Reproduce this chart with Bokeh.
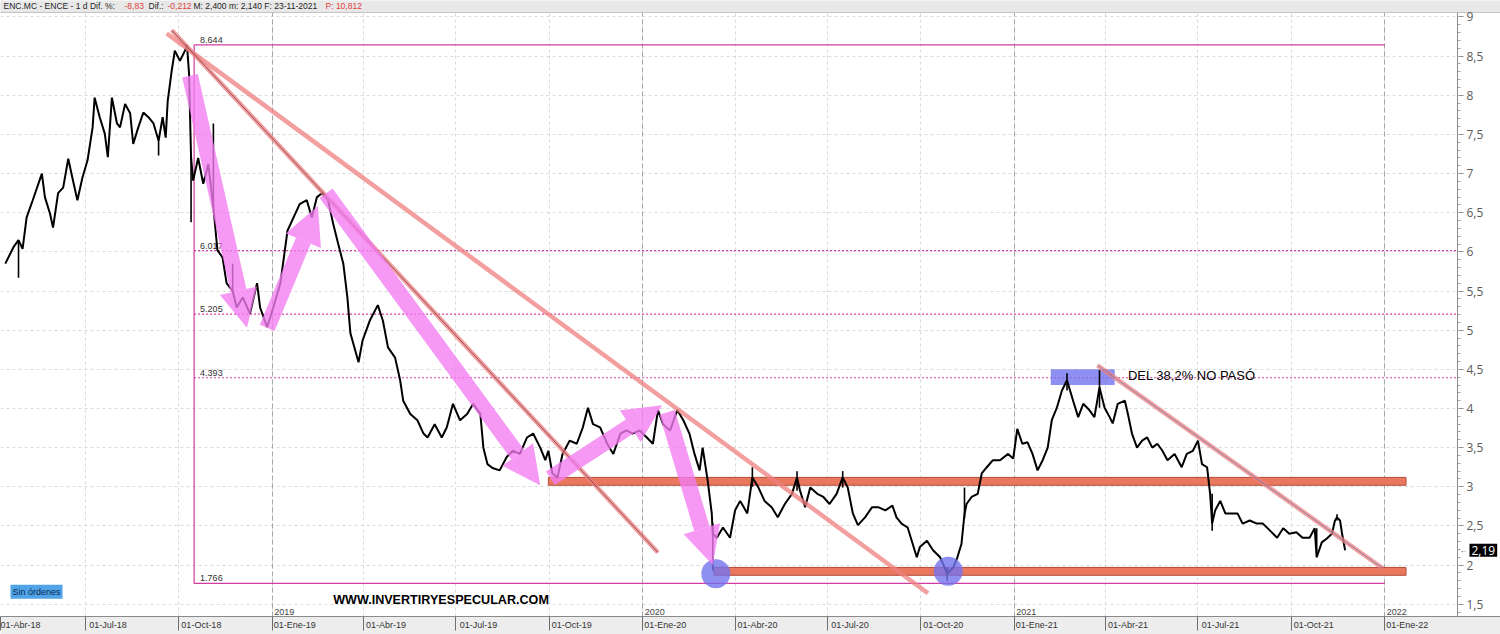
import pandas as pd
from bokeh.plotting import figure
from bokeh.models import (Range1d, LinearAxis, FixedTicker, Grid, CustomJSTickFormatter,
                          ColumnDataSource, Arrow, NormalHead, Label)
from bokeh.embed import file_html
from bokeh.resources import INLINE
from bokeh.core.properties import value

# ---------------- data ----------------
dates = ["2018-04-13","2018-04-21","2018-04-26","2018-04-30","2018-05-04","2018-05-10","2018-05-19","2018-05-22",
         "2018-05-27","2018-05-30","2018-06-04","2018-06-09","2018-06-14","2018-06-18","2018-06-23","2018-06-28",
         "2018-07-03","2018-07-08","2018-07-10","2018-07-15","2018-07-20","2018-07-23","2018-07-27","2018-08-01",
         "2018-08-04","2018-08-09","2018-08-14","2018-08-17","2018-08-22","2018-08-27","2018-09-01","2018-09-06",
         "2018-09-11","2018-09-15","2018-09-18","2018-09-20","2018-09-24","2018-09-27","2018-10-02","2018-10-07",
         "2018-10-09","2018-10-11","2018-10-13","2018-10-15","2018-10-20","2018-10-25","2018-10-30","2018-11-04",
         "2018-11-08","2018-11-13","2018-11-17","2018-11-23","2018-11-27","2018-12-03","2018-12-10","2018-12-17",
         "2018-12-20","2018-12-27","2019-01-02","2019-01-09","2019-01-16","2019-01-22","2019-01-28","2019-02-04",
         "2019-02-09","2019-02-14","2019-02-19","2019-02-25","2019-03-02","2019-03-07","2019-03-12","2019-03-16",
         "2019-03-19","2019-03-27","2019-03-31","2019-04-07","2019-04-15","2019-04-20","2019-04-25","2019-05-02",
         "2019-05-07","2019-05-10","2019-05-17","2019-05-24","2019-05-30","2019-06-03","2019-06-10","2019-06-17",
         "2019-06-22","2019-06-28","2019-07-05","2019-07-12","2019-07-18","2019-07-25","2019-07-28","2019-08-01",
         "2019-08-06","2019-08-13","2019-08-20","2019-08-26","2019-09-02","2019-09-09","2019-09-15","2019-09-22",
         "2019-09-27","2019-09-30","2019-10-04","2019-10-09","2019-10-14","2019-10-21","2019-10-28","2019-11-03",
         "2019-11-08","2019-11-13","2019-11-20","2019-11-27","2019-12-03","2019-12-10","2019-12-16","2019-12-22",
         "2019-12-29","2020-01-05","2020-01-11","2020-01-16","2020-01-21","2020-01-28","2020-02-04","2020-02-10",
         "2020-02-16","2020-02-21","2020-02-26","2020-02-29","2020-03-05","2020-03-09","2020-03-10","2020-03-14",
         "2020-03-20","2020-03-27","2020-04-01","2020-04-06","2020-04-13","2020-04-18","2020-04-24","2020-04-30",
         "2020-05-07","2020-05-13","2020-05-20","2020-05-27","2020-06-01","2020-06-04","2020-06-09","2020-06-14",
         "2020-06-21","2020-06-27","2020-07-03","2020-07-10","2020-07-16","2020-07-21","2020-07-26","2020-07-31",
         "2020-08-07","2020-08-14","2020-08-20","2020-08-27","2020-09-03","2020-09-07","2020-09-12","2020-09-18",
         "2020-09-23","2020-09-27","2020-09-30","2020-10-07","2020-10-13","2020-10-20","2020-10-27","2020-11-02",
         "2020-11-06","2020-11-10","2020-11-13","2020-11-15","2020-11-20","2020-11-26","2020-11-30","2020-12-05",
         "2020-12-11","2020-12-18","2020-12-26","2020-12-31","2021-01-04","2021-01-09","2021-01-14","2021-01-19",
         "2021-01-24","2021-01-29","2021-02-03","2021-02-07","2021-02-12","2021-02-17","2021-02-22","2021-02-28",
         "2021-03-05","2021-03-10","2021-03-16","2021-03-21","2021-03-26","2021-03-31","2021-04-05","2021-04-08",
         "2021-04-13","2021-04-20","2021-04-23","2021-04-27","2021-05-02","2021-05-07","2021-05-12","2021-05-17",
         "2021-05-22","2021-05-27","2021-06-01","2021-06-08","2021-06-15","2021-06-20","2021-06-26","2021-07-01",
         "2021-07-05","2021-07-10","2021-07-13","2021-07-15","2021-07-18","2021-07-23","2021-07-28","2021-08-03",
         "2021-08-09","2021-08-14","2021-08-21","2021-08-28","2021-09-03","2021-09-10","2021-09-17","2021-09-23",
         "2021-09-29","2021-10-06","2021-10-12","2021-10-19","2021-10-24","2021-10-26","2021-10-31","2021-11-05",
         "2021-11-10","2021-11-13","2021-11-15","2021-11-18","2021-11-20","2021-11-23"]
close = [5.85,6.06,6.15,6.04,6.44,6.66,7.00,6.70,6.49,6.31,6.75,6.82,7.19,6.95,6.66,6.95,
         7.17,7.59,7.97,7.72,7.51,7.21,7.97,7.64,7.59,7.89,7.77,7.38,7.59,7.78,7.72,7.64,
         7.42,7.72,7.46,7.93,8.32,8.57,8.44,8.57,8.64,8.28,7.21,6.91,7.20,6.87,7.12,6.57,
         6.02,5.93,5.60,5.50,5.29,5.42,5.21,5.60,5.29,5.04,5.29,5.60,6.27,6.44,6.61,6.66,
         6.44,6.70,6.75,6.66,6.36,6.10,5.85,5.42,4.96,4.59,4.87,5.12,5.32,5.12,4.78,4.65,
         4.36,4.10,3.93,3.85,3.68,3.63,3.80,3.63,3.76,4.06,3.85,3.93,4.06,3.93,3.50,3.29,
         3.24,3.21,3.38,3.46,3.42,3.63,3.68,3.50,3.34,3.46,3.17,3.12,3.42,3.59,3.55,3.76,
         4.01,3.80,3.76,3.55,3.42,3.68,3.72,3.68,3.72,3.63,3.55,3.98,3.80,3.72,3.98,3.85,
         3.68,3.42,3.21,3.50,3.08,2.66,2.40,2.35,2.48,2.35,2.70,2.82,2.66,3.12,2.99,2.82,
         2.74,2.61,2.78,2.91,3.12,2.95,2.74,2.99,2.91,2.87,2.78,2.91,3.12,2.99,2.66,2.51,
         2.61,2.74,2.74,2.70,2.76,2.61,2.53,2.48,2.27,2.10,2.23,2.31,2.19,2.10,1.89,1.97,
         2.10,2.27,2.65,2.78,2.87,2.91,3.17,3.25,3.34,3.34,3.42,3.36,3.74,3.55,3.57,3.42,
         3.21,3.34,3.50,3.85,4.01,4.23,4.36,4.10,3.89,4.06,3.98,3.89,4.27,4.01,3.89,3.81,
         4.06,4.10,3.93,3.68,3.50,3.59,3.63,3.50,3.55,3.46,3.34,3.42,3.25,3.42,3.46,3.59,
         3.29,3.25,2.91,2.53,2.70,2.82,2.66,2.66,2.66,2.53,2.57,2.53,2.53,2.44,2.35,2.47,
         2.40,2.42,2.35,2.35,2.47,2.10,2.29,2.34,2.40,2.57,2.61,2.57,2.40,2.19]

wick_dates = ["2018-04-26","2018-09-11","2018-10-13","2018-11-04","2018-11-23","2020-03-10","2020-04-18",
              "2020-06-01","2020-07-16","2020-10-27","2020-11-13","2021-02-22","2021-03-26","2021-07-15",
              "2021-10-26","2021-11-15"]
wick_high = [6.15,7.42,7.21,7.64,5.85,2.53,3.25,3.20,3.20,1.97,2.99,4.45,4.49,2.91,2.47,2.65]
wick_low = [5.67,7.23,6.38,6.57,5.50,1.93,3.00,2.95,2.99,1.80,2.60,4.23,4.01,2.44,2.10,2.57]

quarter_dates = ["2018-04-01","2018-07-01","2018-10-01","2019-01-01","2019-04-01","2019-07-01","2019-10-01",
                 "2020-01-01","2020-04-01","2020-07-01","2020-10-01","2021-01-01","2021-04-01","2021-07-01",
                 "2021-10-01","2022-01-01"]
quarter_labels = ["01-Abr-18","01-Jul-18","01-Oct-18","01-Ene-19","01-Abr-19","01-Jul-19","01-Oct-19",
                  "01-Ene-20","01-Abr-20","01-Jul-20","01-Oct-20","01-Ene-21","01-Abr-21","01-Jul-21",
                  "01-Oct-21","01-Ene-22"]
year_dates = ["2019-01-01","2020-01-01","2021-01-01","2022-01-01"]
year_labels = ["2019","2020","2021","2022"]
price_ticks = [1.5,2,2.5,3,3.5,4,4.5,5,5.5,6,6.5,7,7.5,8,8.5,9]

fib_levels = [8.644, 6.017, 5.205, 4.393, 1.766]
fib_labels = ["8.644", "6.017", "5.205", "4.393", "1.766"]
fib_start = "2018-10-16"
fib_end = "2022-01-01"

tl_start = ["2018-09-19", "2018-09-24", "2021-03-24"]
tl_p0 = [8.79, 8.83, 4.55]
tl_end = ["2020-10-08", "2020-01-16", "2021-12-30"]
tl_p1 = [1.64, 2.16, 1.96]

zone_left = ["2019-09-30", "2020-03-11"]
zone_right = ["2022-01-22", "2022-01-22"]
zone_top = [3.12, 1.97]
zone_bottom = [3.02, 1.87]

arrow_from = ["2018-10-12", "2018-12-27", "2019-02-23", "2019-10-02", "2020-01-25"]
arrow_from_p = [8.25, 5.03, 6.75, 3.11, 3.95]
arrow_to = ["2018-12-07", "2019-02-15", "2019-09-22", "2020-01-20", "2020-03-10"]
arrow_to_p = [5.03, 6.59, 3.02, 4.04, 2.00]

circle_dates = ["2020-03-13", "2020-10-28"]
circle_p = [1.89, 1.92]
box_left, box_right, box_top, box_bottom = "2021-02-06", "2021-04-10", 4.50, 4.30

last_price = 2.19
header = [("ENC.MC - ENCE -  1 d  Dif. %:", "#1e1e1e"), ("-8,83", "#e0403a"), ("Dif.:", "#1e1e1e"),
          ("-0,212", "#e0403a"), ("M: 2,400  m: 2,140  F: 23-11-2021", "#1e1e1e"), ("P: 10,812", "#e0403a")]

# ---------------- layout ----------------
def ms(d):
    return pd.Timestamp(d).value / 1e6

DAY = 86400000.0
W, H = 1500, 634
x0, x1 = ms("2018-04-08 06:00"), ms("2022-04-25 02:00")
axis_x = ms("2022-03-13 17:00")
y0, y1 = 1.3436, 9.2107
head_bottom = 9.0575
MS_PER_PX = (x1 - x0) / W

SANS = "Liberation Sans"
OPEN = "Open Sans"

p = figure(width=W, height=H, x_range=Range1d(x0, x1), y_range=Range1d(y0, y1),
           x_axis_type=None, y_axis_type=None, output_backend="svg", toolbar_location=None,
           min_border_left=0, min_border_right=0, min_border_top=0, min_border_bottom=18,
           background_fill_color="white", border_fill_color="#ededed", outline_line_color=None)

# x axis: quarter ticks, each label written just right of its tick line
q_ms = [ms(d) for d in quarter_dates]
x_ticks = [x0 + 1] + [q for q in q_ms if q > x0]
xaxis = LinearAxis(
    ticker=FixedTicker(ticks=x_ticks, minor_ticks=[]),
    formatter=CustomJSTickFormatter(args=dict(pos=q_ms, labs=quarter_labels), code="""
        let best = 0, bd = Infinity;
        for (let i = 0; i < pos.length; i++) { const d = Math.abs(pos[i] - tick); if (d < bd) { bd = d; best = i } }
        if (bd > 3600000) return labs[best];
        return '\\u00a0'.repeat(18) + labs[best];"""),
    major_tick_line_color="#6e6e6e", major_tick_in=0, major_tick_out=14,
    axis_line_color="#8a8a8a", major_label_standoff=-11,
    major_label_text_font=SANS, major_label_text_font_size="9px", major_label_text_color="#333")
p.add_layout(xaxis, "below")

# y axis on the right, drawn at the chart edge
ym = [round(1.4 + 0.1 * i, 1) for i in range(77)]
yaxis = LinearAxis(
    fixed_location=axis_x, bounds=(y0, head_bottom),
    ticker=FixedTicker(ticks=price_ticks, minor_ticks=ym),
    formatter=CustomJSTickFormatter(code="return String(tick).replace('.', ',');"),
    axis_line_color="#8c8c8c", major_tick_out=6, major_tick_in=0, minor_tick_out=3, minor_tick_in=0,
    major_tick_line_color="#8c8c8c", minor_tick_line_color="#a0a0a0",
    major_label_text_color="#5a5a5a", major_label_text_font=OPEN,
    major_label_text_font_size="12px", major_label_standoff=3)
p.add_layout(yaxis, "right")

p.add_layout(Grid(dimension=1, ticker=FixedTicker(ticks=price_ticks),
                  grid_line_color="#dadada", grid_line_dash="3 3"))
p.add_layout(Grid(dimension=0, ticker=FixedTicker(ticks=q_ms),
                  grid_line_color="#dadada", grid_line_dash="3 3"))
p.add_layout(Grid(dimension=0, ticker=FixedTicker(ticks=[ms(d) for d in year_dates]),
                  grid_line_color="#a6a6a6", grid_line_dash="5 3"))

# blank scale area right of the price axis, header strip on top
p.quad(left=[axis_x], right=[x1 + 5 * DAY], bottom=[y0 - 1], top=[head_bottom], fill_color="white",
       line_color=None)
p.quad(left=[x0 - 5 * DAY], right=[x1 + 5 * DAY], bottom=[head_bottom], top=[y1 + 1], fill_color="#e8e8e8",
       line_color="#c4c4c4", line_width=1)

# year labels
p.text(x=[ms(d) for d in year_dates], y=[y0] * len(year_dates), text=year_labels,
       x_offset=2, y_offset=-2, text_baseline="bottom", text_align="left",
       text_font=value(SANS), text_font_size="9px", text_color="#444")

# fibonacci levels
FIB = "#d23ca0"
fs, fe = ms(fib_start), ms(fib_end)
solid = [i for i, v in enumerate(fib_levels) if v in (max(fib_levels), min(fib_levels))]
dashed = [i for i in range(len(fib_levels)) if i not in solid]
p.segment(x0=[fs] * len(solid), x1=[fe] * len(solid), y0=[fib_levels[i] for i in solid],
          y1=[fib_levels[i] for i in solid], line_color=FIB, line_width=1.2)
p.segment(x0=[fs] * len(dashed), x1=[axis_x] * len(dashed), y0=[fib_levels[i] for i in dashed],
          y1=[fib_levels[i] for i in dashed], line_color=FIB, line_width=1.2, line_dash="2 2")
p.segment(x0=[fs], x1=[fs], y0=[min(fib_levels)], y1=[max(fib_levels)], line_color=FIB, line_width=1.2)
p.text(x=[fs] * len(fib_levels), y=fib_levels, text=fib_labels, x_offset=6, y_offset=-2,
       text_baseline="bottom", text_font=value(SANS), text_font_size="9px", text_color="#333")

# support / resistance zones
p.quad(left=[ms(d) for d in zone_left], right=[ms(d) for d in zone_right], top=zone_top, bottom=zone_bottom,
       fill_color="#e9785f", line_color="#b44c37", line_width=1)

# blue highlight box
p.quad(left=[ms(box_left)], right=[ms(box_right)], top=[box_top], bottom=[box_bottom],
       fill_color="#7373ee", fill_alpha=0.8, line_color=None)

# price
src = ColumnDataSource(dict(x=[ms(d) for d in dates], y=close))
p.line("x", "y", source=src, line_color="black", line_width=2)
p.segment(x0=[ms(d) for d in wick_dates], x1=[ms(d) for d in wick_dates], y0=wick_low, y1=wick_high,
          line_color="black", line_width=1.6)

# trend lines
p.segment(x0=[ms(d) for d in tl_start], x1=[ms(d) for d in tl_end], y0=tl_p0, y1=tl_p1,
          line_color="#ef7f7f", line_alpha=0.75, line_width=4.5)
p.segment(x0=[ms(tl_start[1])], x1=[ms(tl_end[1])], y0=[tl_p0[1]], y1=[tl_p1[1]],
          line_color="#7a3a48", line_alpha=0.8, line_width=1)
p.segment(x0=[ms(tl_start[2])], x1=[ms(tl_end[2])], y0=[tl_p0[2]], y1=[tl_p1[2]],
          line_color="#6a78a8", line_alpha=0.7, line_width=1)

# blue circles
p.scatter(x=[ms(d) for d in circle_dates], y=circle_p, size=29, marker="circle",
          fill_color="#7373ee", fill_alpha=0.8, line_color=None)

# magenta arrows
asrc = ColumnDataSource(dict(xs=[ms(d) for d in arrow_from], ys=arrow_from_p,
                             xe=[ms(d) for d in arrow_to], ye=arrow_to_p))
p.add_layout(Arrow(end=NormalHead(size=38, fill_color="#f27cf2", fill_alpha=0.78, line_color=None),
                   source=asrc, x_start="xs", y_start="ys", x_end="xe", y_end="ye",
                   line_color="#f27cf2", line_alpha=0.78, line_width=16))

# texts
p.add_layout(Label(x=ms("2019-03-02"), y=1.55, text="WWW.INVERTIRYESPECULAR.COM", text_baseline="middle",
                   text_font=SANS, text_font_style="bold", text_font_size="12.6px", text_color="black"))
p.add_layout(Label(x=ms("2021-04-23"), y=4.42, text="DEL 38,2% NO PASÓ", text_baseline="middle",
                   text_font=SANS, text_font_size="13px", text_color="black"))
p.add_layout(Label(x=x0 + 10 * MS_PER_PX, y=1.66, text="Sin órdenes", text_baseline="middle",
                   text_font=SANS, text_font_size="9px", text_color="#0d2a55",
                   background_fill_color="#4fa3e6", padding=2))
p.add_layout(Label(x=axis_x + 12 * MS_PER_PX, y=last_price, text="2,19", text_baseline="middle",
                   text_font=OPEN, text_font_size="12px", text_color="white",
                   background_fill_color="black", padding=2))
p.add_layout(Label(x=axis_x + 2 * MS_PER_PX, y=last_price, text="←", text_baseline="middle",
                   text_font=SANS, text_font_size="8px", text_color="#666"))

# header strip texts
hdr_px = [3, 124, 148, 167, 193, 325]
yh = (head_bottom + y1) / 2
for (txt, col), xo in zip(header, hdr_px):
    p.add_layout(Label(x=x0 + xo * MS_PER_PX, y=yh, text=txt, text_baseline="middle",
                       text_font=SANS, text_font_size="8.5px", text_color=col))

open("out.html", "w").write(file_html(p, INLINE))
